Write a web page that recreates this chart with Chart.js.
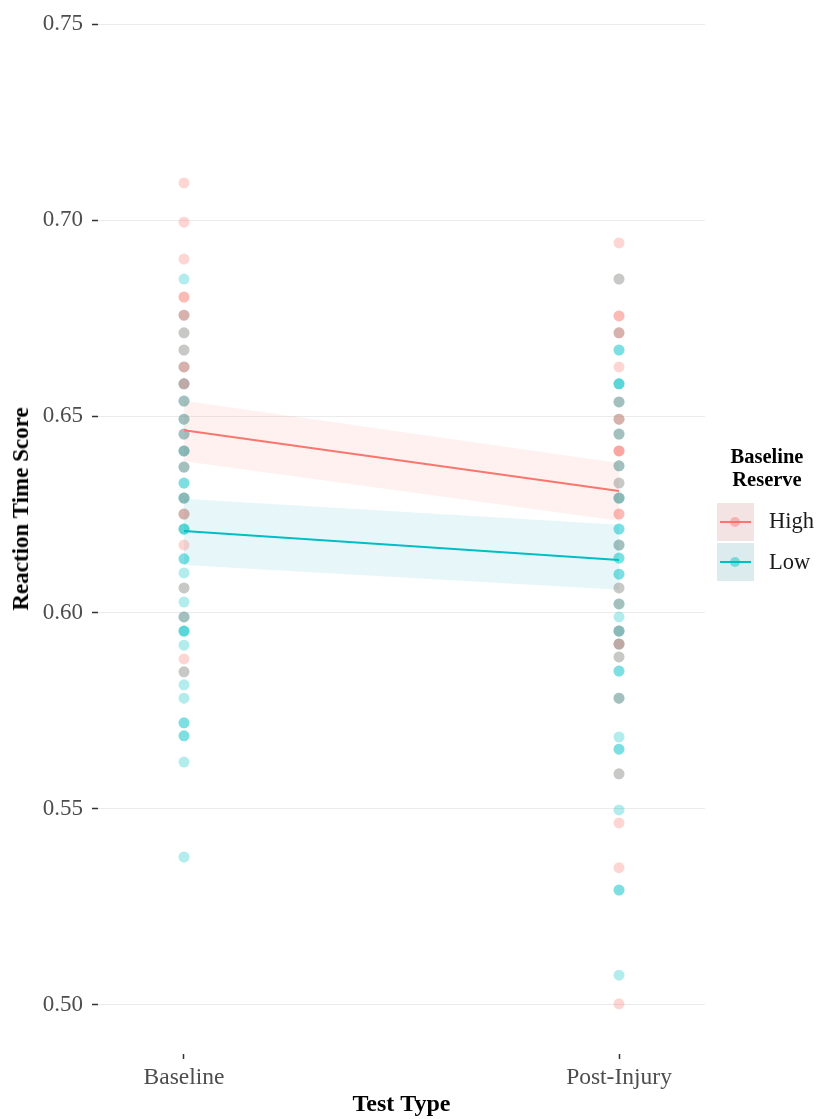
<!DOCTYPE html>
<html>
<head>
<meta charset="utf-8">
<script src="https://cdn.jsdelivr.net/npm/chart.js@4"></script>
<style>
  html, body { margin: 0; padding: 0; background: #ffffff; }
  #wrap { position: relative; width: 820px; height: 1119px; }
  #c { position: absolute; left: 0; top: 0; }
  .lg { position: absolute; font-family: "Liberation Serif", "DejaVu Serif", serif; white-space: nowrap; }
  .lgtitle { font-weight: bold; font-size: 20.5px; color: #000; text-align: center; width: 110px; line-height: 23px; }
  .lgkey { position: absolute; width: 37px; height: 38px; }
  .lgline { position: absolute; left: 3px; right: 3px; top: 18px; height: 2px; }
  .lgdot { position: absolute; left: 13px; top: 14px; width: 10px; height: 10px; border-radius: 50%; }
  .lgtext { font-size: 22.5px; color: #1a1a1a; }
  .ytitle { position: absolute; font-family: "Liberation Serif", "DejaVu Serif", serif; font-weight: bold;
            font-size: 23px; color: #000; white-space: nowrap; left: 21px; top: 509px;
            transform: translate(-50%, -50%) rotate(-90deg); }
</style>
</head>
<body>
<div id="wrap">
  <canvas id="c" width="820" height="1119"></canvas>
  <div class="ytitle">Reaction Time Score</div>
  <div class="lg lgtitle" style="left:712px; top:445px;">Baseline<br>Reserve</div>
  <div class="lg lgkey" style="left:717px; top:503px; background:#f3e4e3;">
    <div class="lgline" style="background:#F8766D;"></div>
    <div class="lgdot" style="background:rgba(248,118,109,0.45);"></div>
  </div>
  <div class="lg lgkey" style="left:717px; top:543px; background:#dcecee;">
    <div class="lgline" style="background:#00BFC4;"></div>
    <div class="lgdot" style="background:rgba(0,191,196,0.45);"></div>
  </div>
  <div class="lg lgtext" style="left:769px; top:508px;">High</div>
  <div class="lg lgtext" style="left:769px; top:549px;">Low</div>
</div>
<script>
// ---- data ----
const categories = ['Baseline', 'Post-Injury'];
const yTicks = [0.50, 0.55, 0.60, 0.65, 0.70, 0.75];

// individual observations (repeated values = overlapping points)
const baselineHigh = [0.7095, 0.6995, 0.6901, 0.6804, 0.6804, 0.6758, 0.6758, 0.6713, 0.6669,
  0.6626, 0.6626, 0.6583, 0.6583, 0.6539, 0.6493, 0.6455, 0.6412, 0.6371, 0.6292,
  0.6251, 0.6251, 0.6172, 0.6063, 0.5989, 0.5882, 0.5849];
const baselineLow = [0.6850, 0.6758, 0.6713, 0.6669, 0.6626, 0.6583, 0.6583, 0.6539, 0.6539,
  0.6493, 0.6493, 0.6455, 0.6455, 0.6412, 0.6412, 0.6412, 0.6371, 0.6371, 0.6330, 0.6330,
  0.6292, 0.6292, 0.6292, 0.6251, 0.6213, 0.6213, 0.6213, 0.6137, 0.6137, 0.6101, 0.6063,
  0.6027, 0.5989, 0.5989, 0.5953, 0.5953, 0.5953, 0.5917, 0.5849, 0.5816, 0.5782,
  0.5719, 0.5719, 0.5686, 0.5686, 0.5619, 0.5377];
const postHigh = [0.6942, 0.6850, 0.6756, 0.6756, 0.6713, 0.6713, 0.6626, 0.6537, 0.6493,
  0.6493, 0.6455, 0.6412, 0.6412, 0.6412, 0.6374, 0.6330, 0.6292, 0.6251, 0.6251, 0.6172,
  0.6063, 0.6022, 0.5953, 0.5920, 0.5920, 0.5887, 0.5782, 0.5589, 0.5464, 0.5350, 0.5003];
const postLow = [0.6850, 0.6713, 0.6669, 0.6669, 0.6583, 0.6583, 0.6583, 0.6537, 0.6537,
  0.6493, 0.6455, 0.6455, 0.6374, 0.6374, 0.6330, 0.6292, 0.6292, 0.6292, 0.6213, 0.6213,
  0.6172, 0.6172, 0.6139, 0.6139, 0.6098, 0.6098, 0.6063, 0.6022, 0.6022, 0.5989,
  0.5953, 0.5953, 0.5953, 0.5920, 0.5920, 0.5887, 0.5851, 0.5851, 0.5782, 0.5782,
  0.5683, 0.5652, 0.5652, 0.5589, 0.5497, 0.5293, 0.5293, 0.5076];

// fitted lines and confidence bands [Baseline, Post-Injury]
const fitHigh = [0.6465, 0.6310];
const fitLow = [0.6208, 0.6134];
const ciHighUpper = [0.6540, 0.6381];
const ciHighLower = [0.6386, 0.6234];
const ciLowUpper = [0.6290, 0.6224];
const ciLowLower = [0.6121, 0.6058];

// ---- build ----
const COL_HIGH = '#F8766D', COL_LOW = '#00BFC4';
const pts = (arr, xi) => arr.map(v => ({ x: xi + 1, y: v }));
const pair = arr => arr.map((v, i) => ({ x: i + 1, y: v }));
const serif = '"Liberation Serif", "DejaVu Serif", serif';

const ds = [
  { type: 'line', data: pair(fitHigh), borderColor: COL_HIGH, borderWidth: 2, pointRadius: 0, fill: false, order: 0 },
  { type: 'line', data: pair(fitLow), borderColor: COL_LOW, borderWidth: 2, pointRadius: 0, fill: false, order: 0 },
  { type: 'scatter', data: pts(baselineHigh, 0).concat(pts(postHigh, 1)), backgroundColor: 'rgba(248,118,109,0.3)', borderWidth: 0, pointRadius: 5.5, order: 1 },
  { type: 'scatter', data: pts(baselineLow, 0).concat(pts(postLow, 1)), backgroundColor: 'rgba(0,191,196,0.3)', borderWidth: 0, pointRadius: 5.5, order: 1 },
  { type: 'line', data: pair(ciHighUpper), borderWidth: 0, borderColor: 'rgba(0,0,0,0)', pointRadius: 0, fill: '+1', backgroundColor: 'rgba(248,118,109,0.1)', order: 2 },
  { type: 'line', data: pair(ciHighLower), borderWidth: 0, borderColor: 'rgba(0,0,0,0)', pointRadius: 0, fill: false, order: 2 },
  { type: 'line', data: pair(ciLowUpper), borderWidth: 0, borderColor: 'rgba(0,0,0,0)', pointRadius: 0, fill: '+1', backgroundColor: 'rgba(20,170,200,0.1)', order: 2 },
  { type: 'line', data: pair(ciLowLower), borderWidth: 0, borderColor: 'rgba(0,0,0,0)', pointRadius: 0, fill: false, order: 2 }
];

new Chart(document.getElementById('c'), {
  type: 'scatter',
  data: { datasets: ds },
  options: {
    responsive: false,
    animation: false,
    layout: { autoPadding: false, padding: { left: 0, right: 115, top: 0, bottom: 0 } },
    plugins: { legend: { display: false }, tooltip: { enabled: false } },
    scales: {
      x: {
        type: 'linear', min: 0.8023, max: 2.1977,
        afterBuildTicks: a => { a.ticks = [{ value: 1 }, { value: 2 }]; },
        afterFit: a => { a.height = 65; a.paddingLeft = 0; a.paddingRight = 0; },
        grid: { drawOnChartArea: false, tickLength: 5, tickColor: '#333333', tickWidth: 1.5 },
        border: { display: false },
        ticks: { callback: v => categories[v - 1], color: '#4d4d4d', font: { family: serif, size: 23.5 }, padding: 5, maxRotation: 0 },
        title: { display: true, text: 'Test Type', color: '#000', font: { family: serif, size: 24, weight: 'bold' }, padding: { top: 0, bottom: 0 } }
      },
      y: {
        type: 'linear', min: 0.48751, max: 0.75612,
        afterBuildTicks: a => { a.ticks = yTicks.map(v => ({ value: v })); },
        afterFit: a => { a.width = 98; a.paddingTop = 0; a.paddingBottom = 0; },
        grid: { color: '#ebebeb', lineWidth: 1, tickLength: 6, tickColor: '#333333', tickWidth: 1.5 },
        border: { display: false },
        ticks: { callback: v => v.toFixed(2), color: '#4d4d4d', font: { family: serif, size: 23 }, padding: 9 },
        title: { display: false }
      }
    }
  }
});
</script>
</body>
</html>
